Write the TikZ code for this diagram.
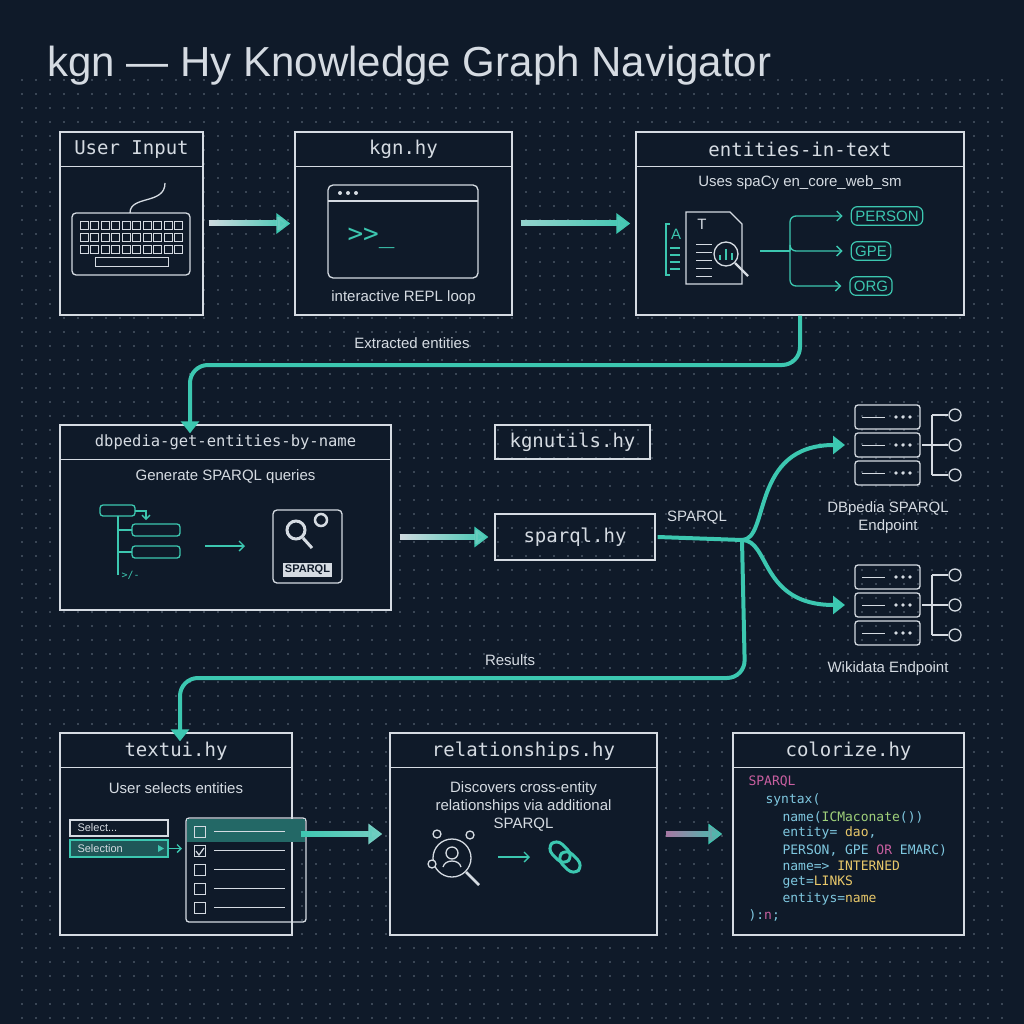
\documentclass[tikz,border=0pt]{standalone}
\usepackage{fontspec}
\setmainfont{Liberation Sans}
\setmonofont{DejaVu Sans Mono}
\usetikzlibrary{arrows.meta,positioning,fadings}
\definecolor{bgnavy}{HTML}{0F1A29}
\definecolor{dotgray}{HTML}{4A5666}
\definecolor{frame}{HTML}{D5DBE2}
\definecolor{tealc}{HTML}{3CC7B0}
\definecolor{codepink}{HTML}{C85FA0}
\definecolor{codeblue}{HTML}{7FC8E0}
\definecolor{codegreen}{HTML}{9FD07A}
\definecolor{codeyel}{HTML}{E8C86A}
\tikzset{
  stage/.style={draw=frame, line width=1.4pt, fill=bgnavy, inner sep=0},
  head/.style={font=\ttfamily\fontsize{19}{22}\selectfont, text=frame},
  body/.style={font=\fontsize{15}{18}\selectfont, text=frame, align=center},
  flow/.style={line width=6pt, -{Triangle[length=14pt,width=20pt]}},
  pipe/.style={line width=4pt, tealc, rounded corners=18pt, -{Triangle[length=12pt,width=18pt]}},
  tag/.style={draw=tealc, line width=1.2pt, rounded corners=6pt, text=tealc,
    font=\fontsize{15}{18}\selectfont, inner sep=4pt},
  icon/.style={draw=frame, line width=1.3pt},
  ticon/.style={draw=tealc, line width=1.3pt},
  code/.style={font=\ttfamily\fontsize{13}{16.5}\selectfont, anchor=west},
}
% two-layer gradient arrow: left colour #3, right colour #4
\newcommand{\gradflow}[4]{%
  \draw[flow, #4] (#1) -- (#2);
  \draw[flow, #3, path fading=east] (#1) -- (#2);}
\begin{document}
\begin{tikzpicture}[x=1pt,y=-1pt]
\useasboundingbox (0,0) rectangle (1024,1024);
\fill[bgnavy] (0,0) rectangle (1024,1024);
% dot grid
\foreach \i in {0,...,70} \foreach \j in {0,...,68}
  \fill[dotgray] (22+14*\i,80+14*\j) circle (1.1);
\node[anchor=west, text=frame, font=\fontsize{42}{46}\selectfont] (title) at (44,66) {kgn — Hy Knowledge Graph Navigator};

% ---- top row
\node[stage, minimum width=143, minimum height=183] (ui) at (131.5,223.5) {};
\node[stage, minimum width=217, minimum height=183] (kgn) at (403.5,223.5) {};
\node[stage, minimum width=328, minimum height=183] (eit) at (800,223.5) {};
\foreach \b/\t in {ui/User Input, kgn/kgn.hy, eit/entities-in-text}{
  \draw[frame, line width=1.4pt] ([yshift=-35]\b.north west) -- ([yshift=-35]\b.north east);
  \node[head] (\b-h) at ([yshift=-18.5]\b.north) {\t};
}
% keyboard
\draw[icon, rounded corners=4pt] (72,213) rectangle (190,275);
\foreach \r in {0,1,2}
  \foreach \c in {0,...,9} \draw[frame, line width=0.8pt] (80+10.5*\c,221+12*\r) rectangle ++(8,8);
\draw[frame, line width=0.8pt] (95,257) rectangle (168,266);
\draw[icon] (130,213) .. controls (130,195) and (165,205) .. (165,183);
% terminal
\draw[icon, rounded corners=5pt] (328,185) rectangle (478,278);
\draw[icon] (328,201) -- (478,201);
\foreach \k in {0,1,2} \fill[frame] (340+8*\k,193) circle (2);
\node[text=tealc, font=\ttfamily\fontsize{26}{28}\selectfont] (prompt) at (371,238) {>>\_};
\node[body] (repl) at (403.5,298) {interactive REPL loop};
% entities body
\node[body] (spacy) at (800,183) {Uses spaCy en\_core\_web\_sm};
\draw[ticon] (670,224) -- (666,224) -- (666,275) -- (670,275);
\node[text=tealc, font=\fontsize{15}{16}\selectfont] (la) at (676,234) {A};
\foreach \k in {0,...,3} \draw[ticon] (670,248+7*\k) -- (680,248+7*\k);
\draw[icon] (686,212) -- (730,212) -- (742,224) -- (742,284) -- (686,284) -- cycle;
\node[text=frame, font=\fontsize{15}{16}\selectfont] (lt) at (702,224) {T};
\foreach \k in {0,...,4} \draw[frame, line width=1pt] (696,244+8*\k) -- (712,244+8*\k);
\draw[icon, fill=bgnavy] (726,254) circle (12);
\draw[icon, line width=2.4pt] (735,263) -- (748,276);
\draw[ticon] (720,260) -- (720,255) (726,260) -- (726,249) (732,260) -- (732,253);
\node[tag] (person) at (887,216) {PERSON};
\node[tag] (gpe) at (871,251) {GPE};
\node[tag] (org) at (871,286) {ORG};
\coordinate (fork) at (790,251);
\draw[ticon] (760,251) -- (fork);
\foreach \t in {person,gpe,org}
  \draw[ticon, -{Straight Barb[length=5pt]}, rounded corners=6pt] (fork) |- ([xshift=-8]\t.west);

\gradflow{[xshift=5]ui.east}{[xshift=-4]kgn.west}{frame}{tealc}
\gradflow{[xshift=8]kgn.east}{[xshift=-5]eit.west}{tealc!40!frame}{tealc}

% ---- middle row
\node[stage, minimum width=331, minimum height=185] (dbp) at (225.5,517.5) {};
\draw[frame, line width=1.4pt] ([yshift=-35]dbp.north west) -- ([yshift=-35]dbp.north east);
\node[head, font=\ttfamily\fontsize{15.5}{18}\selectfont] (dbp-h) at ([yshift=-17.5]dbp.north) {dbpedia-get-entities-by-name};
\node[body] (gen) at (225.5,477) {Generate SPARQL queries};
\draw[ticon, rounded corners=3pt] (100,505) rectangle (135,516);
\draw[ticon, rounded corners=3pt] (132,524) rectangle (180,536);
\draw[ticon, rounded corners=3pt] (132,546) rectangle (180,558);
\draw[ticon] (118,516) -- (118,575) (118,530) -- (132,530) (118,552) -- (132,552);
\draw[ticon, -{Straight Barb[length=4pt]}] (135,511) -- (146,511) -- (146,520);
\node[text=tealc, font=\ttfamily\fontsize{10}{12}\selectfont, anchor=west] (tagsym) at (118,575) {>/-};
\draw[ticon, -{Straight Barb[length=5pt]}] (205,546) -- (245,546);
\draw[icon, rounded corners=4pt] (273,510) rectangle (342,583);
\draw[frame, line width=3pt] (296,530) circle (9);
\draw[frame, line width=2.5pt] (321,520) circle (6);
\draw[frame, line width=3pt] (303,538) -- (312,548);
\node[fill=frame, text=bgnavy, font=\bfseries\fontsize{11}{12}\selectfont, inner sep=2pt] (sparqllogo) at (307.5,570) {SPARQL};
\node[draw=frame, line width=1.3pt, head, minimum width=155, minimum height=34] (utils) at (572.5,442) {kgnutils.hy};
\node[draw=frame, line width=1.3pt, head, minimum width=160, minimum height=46] (sparql) at (575,537) {sparql.hy};
\gradflow{[xshift=8]dbp.east |- sparql.west}{[xshift=-6]sparql.west}{frame}{tealc}
% servers
\foreach \s/\yy in {dbs/405,wds/565}{
  \coordinate (\s) at (887,\yy+42);
  \foreach \k in {0,1,2}{
    \draw[icon, rounded corners=3pt] (855,\yy+28*\k) rectangle (920,\yy+24+28*\k);
    \foreach \d in {0,1,2} \fill[frame] (896+7*\d,\yy+12+28*\k) circle (1.8);
    \draw[frame, line width=0.9pt] (862,\yy+12+28*\k) -- (885,\yy+12+28*\k);
  }
  \draw[icon] (922,\yy+40) -- (932,\yy+40) (932,\yy+10) -- (932,\yy+70)
    (932,\yy+10) -- (948,\yy+10) (932,\yy+40) -- (948,\yy+40) (932,\yy+70) -- (948,\yy+70);
  \foreach \k in {0,1,2} \draw[icon] (955,\yy+10+30*\k) circle (6);
}
\node[body] (dbs-l) at (888,518) {DBpedia SPARQL\\Endpoint};
\node[body] (wds-l) at (888,669) {Wikidata Endpoint};
\coordinate (split) at (742,540);
\draw[line width=4pt, tealc] ([xshift=2]sparql.east) -- (split);
\draw[pipe] (split) .. controls (770,540) and (750,445) .. (845,445);
\draw[pipe] (split) .. controls (770,540) and (760,605) .. (845,605);
\node[body] (sparql-l) at (697,518) {SPARQL};

% ---- flow down
\draw[pipe] (eit.south) -- (800,365) -- (190,365) -- ([yshift=-9]dbp.north -| 190,0);
\node[body] (extr) at (412,343) {Extracted entities};

% ---- bottom row
\node[stage, minimum width=232, minimum height=202] (tui) at (176,834) {};
\node[stage, minimum width=267, minimum height=202] (rel) at (523.5,834) {};
\node[stage, minimum width=231, minimum height=202] (col) at (848.5,834) {};
\foreach \b/\t in {tui/textui.hy, rel/relationships.hy, col/colorize.hy}{
  \draw[frame, line width=1.4pt] ([yshift=-35]\b.north west) -- ([yshift=-35]\b.north east);
  \node[head] (\b-h) at ([yshift=-18.5]\b.north) {\t};
}
\draw[pipe] (split) -- (745,678) -- (180,678) -- ([yshift=-9]tui.north -| 180,0);
\node[body] (res) at (510,660) {Results};

% textui body
\node[body] (usel) at (176,788) {User selects entities};
\draw[icon] (70,820) rectangle (168,836);
\node[text=frame, font=\fontsize{11}{12}\selectfont, anchor=west] (sel1) at (74,828) {Select...};
\draw[ticon, fill=tealc!35!bgnavy] (70,840) rectangle (168,857);
\node[text=frame, font=\fontsize{11}{12}\selectfont, anchor=west] (sel2) at (74,848.5) {Selection};
\fill[tealc] (158,845) -- (164,848.5) -- (158,852) -- cycle;
\draw[ticon, -{Straight Barb[length=4pt]}] (168,848.5) -- (182,848.5);
\draw[icon, rounded corners=3pt] (186,818) rectangle (306,922);
\fill[tealc!45!bgnavy] (187,819) rectangle (305,842);
\foreach \k in {0,...,4}{
  \draw[frame, line width=1pt] (194,826+19*\k) rectangle ++(11,11);
  \draw[frame, line width=1pt] (214,831.5+19*\k) -- (285,831.5+19*\k);
}
\draw[frame, line width=1.2pt] (196,851) -- (199,855) -- (204,848);
% relationships body
\node[body] (disc) at (523.5,806) {Discovers cross-entity\\relationships via additional\\SPARQL};
\draw[icon] (452,858) circle (19);
\draw[icon] (452,853) circle (6);
\draw[icon] (443,867) .. controls (445,859) and (459,859) .. (461,867);
\draw[icon, line width=2.5pt] (466,872) -- (479,885);
\foreach \p in {(437,834),(470,835),(432,864)} \draw[icon, fill=bgnavy] \p circle (4);
\draw[ticon, -{Straight Barb[length=5pt]}] (498,857) -- (530,857);
\draw[ticon, line width=3pt, rounded corners=8pt, rotate around={-45:(565,857)}] (546,850) rectangle (570,864);
\draw[ticon, line width=3pt, rounded corners=8pt, rotate around={-45:(565,857)}] (560,850) rectangle (584,864);
% colorize code
\node[code, text=codepink] (c1) at (745,782) {SPARQL};
\node[code, text=codeblue] (c2) at (762,800) {syntax(};
\node[code, text=codeblue] (c3) at (779,817) {name(\textcolor{codegreen}{ICMaconate}())};
\node[code, text=codeblue] (c4) at (779,833) {entity= \textcolor{codeyel}{dao},};
\node[code, text=codeblue] (c5) at (779,850) {PERSON, GPE \textcolor{codepink}{OR} EMARC)};
\node[code, text=codeblue] (c6) at (779,866) {name=> \textcolor{codeyel}{INTERNED}};
\node[code, text=codeblue] (c7) at (779,882) {get=\textcolor{codeyel}{LINKS}};
\node[code, text=codeblue] (c8) at (779,899) {entitys=\textcolor{codeyel}{name}};
\node[code, text=codeblue] (c9) at (745,915) {):\textcolor{codepink}{n};};

\gradflow{[xshift=8]tui.east}{[xshift=-7]rel.west}{tealc}{tealc!60!frame}
\gradflow{[xshift=8]rel.east}{[xshift=-10]col.west}{codepink!80!tealc}{tealc}
\end{tikzpicture}
\end{document}
